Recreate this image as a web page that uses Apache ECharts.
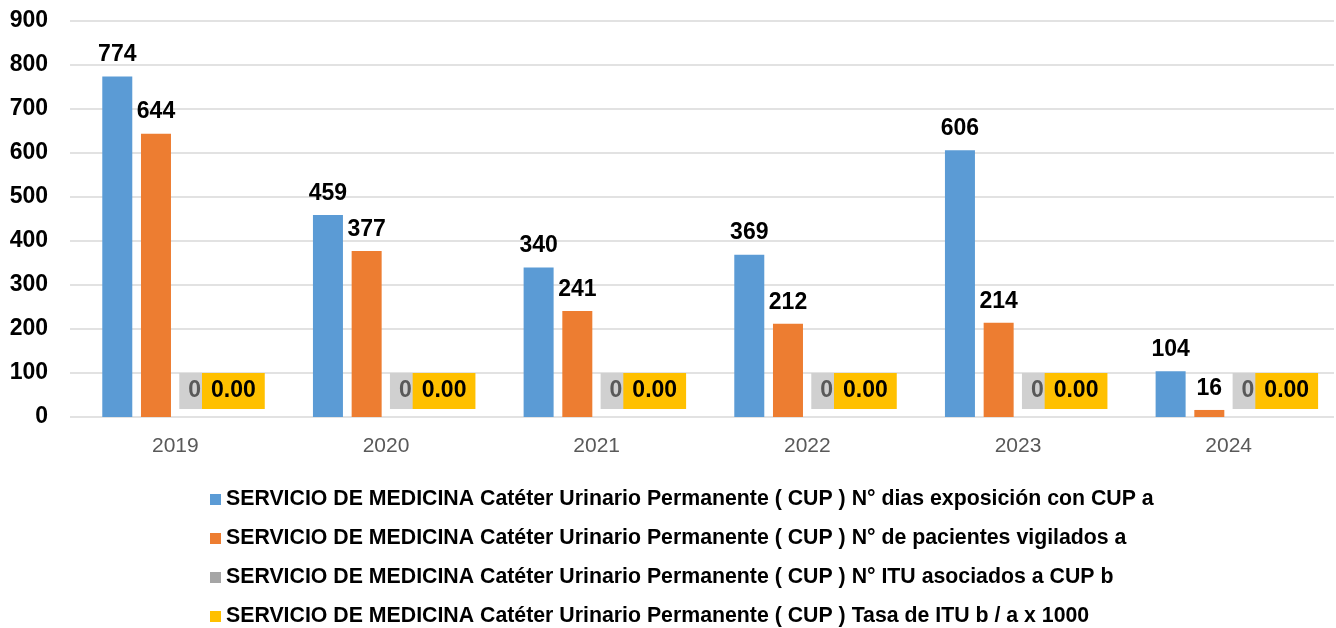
<!DOCTYPE html>
<html>
<head>
<meta charset="utf-8">
<script src="https://cdn.jsdelivr.net/npm/echarts@6/dist/echarts.min.js"></script>
<style>
  html, body { margin: 0; padding: 0; background: #fff; }
  #chart { width: 1336px; height: 628px; }
</style>
</head>
<body>
<div id="chart"></div>
<script>
// data
const years = ['2019', '2020', '2021', '2022', '2023', '2024'];
const diasExposicion = [774, 459, 340, 369, 606, 104];
const pacientesVigilados = [644, 377, 241, 212, 214, 16];
const ituAsociados = [0, 0, 0, 0, 0, 0];
const tasaItu = [0, 0, 0, 0, 0, 0];
const seriesNames = [
  'SERVICIO DE MEDICINA Catéter Urinario Permanente ( CUP ) N° dias exposición con CUP a',
  'SERVICIO DE MEDICINA Catéter Urinario Permanente ( CUP ) N° de pacientes vigilados a',
  'SERVICIO DE MEDICINA Catéter Urinario Permanente ( CUP ) N° ITU asociados a CUP b',
  'SERVICIO DE MEDICINA Catéter Urinario Permanente ( CUP ) Tasa de ITU b / a x 1000'
];
const yTicks = [0, 100, 200, 300, 400, 500, 600, 700, 800, 900];

const chart = echarts.init(document.getElementById('chart'));

const font = 'Liberation Sans, Arial, sans-serif';

// plain bold value label above bars
const valueLabel = {
  show: true,
  position: 'top',
  distance: 10,
  color: '#000',
  fontFamily: font,
  fontWeight: 'bold',
  fontSize: 23
};

chart.setOption({
  animation: false,
  color: ['#5B9BD5', '#ED7D31', '#A5A5A5', '#FFC000'],
  grid: {
    left: 70,
    right: 2,
    top: 21,
    bottom: 211
  },
  legend: {
    orient: 'vertical',
    left: 210,
    top: 489,
    height: 139,
    padding: 0,
    itemWidth: 11,
    itemHeight: 11,
    itemGap: 18,
    icon: 'rect',
    data: seriesNames,
    textStyle: {
      fontFamily: font,
      fontWeight: 'bold',
      fontSize: 21.3,
      color: '#000'
    }
  },
  xAxis: {
    type: 'category',
    data: years,
    axisLine: { show: false },
    axisTick: { show: false },
    axisLabel: {
      color: '#595959',
      fontFamily: font,
      fontSize: 21,
      margin: 19
    }
  },
  yAxis: {
    type: 'value',
    min: yTicks[0],
    max: yTicks[yTicks.length - 1],
    interval: 100,
    axisLine: { show: false },
    axisTick: { show: false },
    splitLine: { lineStyle: { color: '#D9D9D9', width: 1.5 } },
    axisLabel: {
      color: '#000',
      fontFamily: font,
      fontWeight: 'bold',
      fontSize: 23,
      margin: 22
    }
  },
  series: [
    {
      name: seriesNames[0],
      type: 'bar',
      barWidth: 30,
      barGap: '29%',
      data: diasExposicion,
      label: valueLabel
    },
    {
      name: seriesNames[1],
      type: 'bar',
      barWidth: 30,
      barGap: '29%',
      data: pacientesVigilados,
      label: valueLabel
    },
    {
      name: seriesNames[2],
      type: 'bar',
      barWidth: 30,
      barGap: '29%',
      data: ituAsociados,
      label: {
        show: true,
        position: 'top',
        distance: 8,
        color: '#595959',
        fontFamily: font,
        fontWeight: 'bold',
        fontSize: 23,
        lineHeight: 22,
        backgroundColor: '#D0D0D0',
        padding: [7, 9, 7, 9]
      }
    },
    {
      name: seriesNames[3],
      type: 'bar',
      barWidth: 30,
      barGap: '29%',
      data: tasaItu,
      label: {
        show: true,
        position: 'top',
        distance: 8,
        color: '#000',
        fontFamily: font,
        fontWeight: 'bold',
        fontSize: 23,
        lineHeight: 22,
        backgroundColor: '#FFC000',
        padding: [7, 9, 7, 9],
        formatter: (p) => p.value.toFixed(2)
      }
    }
  ]
});

window.addEventListener('resize', () => chart.resize());
</script>
</body>
</html>
